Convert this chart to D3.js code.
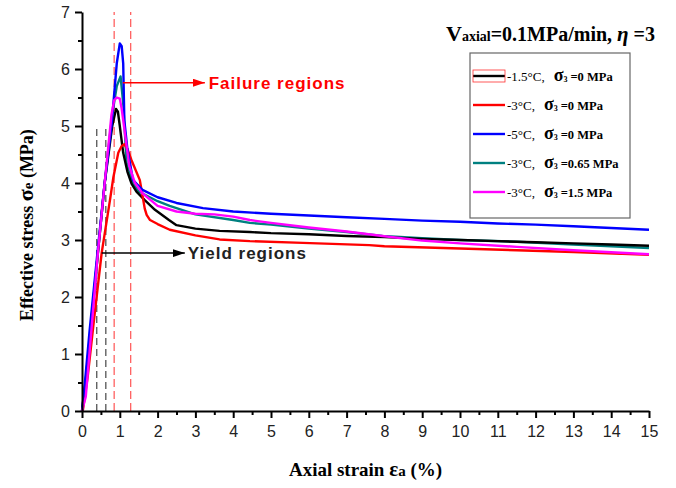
<!DOCTYPE html>
<html>
<head>
<meta charset="utf-8">
<script src="https://cdn.jsdelivr.net/npm/d3@7"></script>
<style>
  body { margin: 0; background: #fff; }
  svg { display: block; }
</style>
</head>
<body>
<div id="chart"></div>
<script>
// strain (%) / effective stress (MPa)
const blueX  = [0, 0.05, 0.2, 0.42, 0.6, 0.78, 0.92, 1.0, 1.05, 1.09, 1.12, 1.2, 1.35, 1.6, 2.0, 2.5, 3.2, 4.0, 5.0, 6.0, 7.0, 8.0, 9.0, 10, 11, 12, 13, 14, 15];
const blueY  = [0, 0.3, 1.4, 2.85, 4.0, 5.0, 6.1, 6.45, 6.4, 6.1, 5.1, 4.6, 4.05, 3.88, 3.75, 3.65, 3.56, 3.5, 3.46, 3.43, 3.4, 3.37, 3.34, 3.32, 3.29, 3.27, 3.24, 3.21, 3.18];

const blackX = [0, 0.1, 0.42, 0.6, 0.8, 0.9, 0.95, 1.0, 1.09, 1.2, 1.31, 1.44, 1.66, 1.93, 2.3, 2.5, 3.0, 3.64, 4.44, 5, 6, 7, 8, 9, 10, 11, 12, 13, 14, 15];
const blackY = [0, 0.55, 2.77, 4.0, 5.0, 5.3, 5.25, 5.0, 4.53, 4.2, 3.99, 3.85, 3.7, 3.53, 3.35, 3.26, 3.2, 3.16, 3.14, 3.12, 3.1, 3.07, 3.05, 3.02, 3.0, 2.98, 2.96, 2.94, 2.92, 2.9];

const redX   = [0.02, 0.15, 0.3, 0.52, 0.74, 0.83, 0.96, 1.05, 1.12, 1.2, 1.31, 1.53, 1.66, 1.71, 1.8, 2.0, 2.32, 3.0, 3.64, 4.44, 5.84, 7.6, 8.0, 10, 11.5, 13, 15];
const redY   = [0, 0.6, 1.5, 2.77, 3.7, 4.1, 4.53, 4.65, 4.68, 4.6, 4.4, 4.05, 3.55, 3.44, 3.35, 3.28, 3.18, 3.08, 3.01, 2.98, 2.95, 2.91, 2.89, 2.85, 2.82, 2.79, 2.74];

const tealX  = [0, 0.1, 0.42, 0.6, 0.8, 0.92, 1.02, 1.09, 1.18, 1.3, 1.5, 2.0, 2.32, 3.0, 4.0, 4.44, 5, 6, 7, 7.95, 9, 10, 11.5, 13, 15];
const tealY  = [0, 0.5, 2.77, 4.0, 5.2, 5.7, 5.87, 5.4, 4.35, 4.05, 3.85, 3.68, 3.6, 3.45, 3.35, 3.3, 3.27, 3.2, 3.14, 3.07, 3.03, 3.0, 2.97, 2.92, 2.86];

const pinkX  = [0, 0.1, 0.42, 0.6, 0.78, 0.85, 0.92, 1.0, 1.05, 1.15, 1.25, 1.4, 1.6, 2.0, 2.5, 3.0, 3.5, 4.0, 4.44, 5, 6, 7, 7.95, 9, 10, 11.5, 13, 15];
const pinkY  = [0, 0.25, 2.77, 4.0, 5.2, 5.45, 5.5, 5.48, 5.3, 4.8, 4.3, 4.0, 3.82, 3.6, 3.5, 3.46, 3.45, 3.41, 3.35, 3.3, 3.22, 3.15, 3.07, 2.99, 2.94, 2.88, 2.82, 2.75];

const seriesNames  = ['-1.5\u00b0C,', '-3\u00b0C,', '-5\u00b0C,', '-3\u00b0C,', '-3\u00b0C,'];
const seriesSigma3 = ['=0 MPa', '=0 MPa', '=0 MPa', '=0.65 MPa', '=1.5 MPa'];
const seriesColors = ['#000000', '#ff0000', '#0000ff', '#008080', '#ff00ff'];

const xTicks = d3.range(0, 16, 1);
const yTicks = d3.range(0, 8, 1);

// guide lines (strain %)
const yieldLines   = [0.39, 0.63];
const failureLines = [0.85, 1.29];

const W = 676, H = 488;
const margin = { top: 12, right: 27, bottom: 77, left: 82 };
const width = W - margin.left - margin.right;
const height = H - margin.top - margin.bottom;

const svg = d3.select('#chart').append('svg')
  .attr('width', W)
  .attr('height', H);

const g = svg.append('g')
  .attr('transform', `translate(${margin.left},${margin.top})`);

const x = d3.scaleLinear().domain([0, 15]).range([0, width]);
const y = d3.scaleLinear().domain([0, 7]).range([height, 0]);

// dashed guide lines
g.selectAll('.yield-line')
  .data(yieldLines)
  .enter().append('line')
  .attr('x1', d => x(d)).attr('x2', d => x(d))
  .attr('y1', y(0)).attr('y2', y(5))
  .attr('stroke', '#555')
  .attr('stroke-width', 1.3)
  .attr('stroke-dasharray', '7,4');

g.selectAll('.failure-line')
  .data(failureLines)
  .enter().append('line')
  .attr('x1', d => x(d)).attr('x2', d => x(d))
  .attr('y1', y(0)).attr('y2', y(7))
  .attr('stroke', '#ff3030')
  .attr('stroke-width', 1)
  .attr('stroke-dasharray', '8,4');

// curves
const curves = [
  { xs: blackX, ys: blackY },
  { xs: redX, ys: redY },
  { xs: blueX, ys: blueY },
  { xs: tealX, ys: tealY },
  { xs: pinkX, ys: pinkY },
];

const line = d3.line()
  .x(d => x(d[0]))
  .y(d => y(d[1]));

// draw order: teal, black, red under, blue & magenta on top
[3, 0, 1, 2, 4].forEach(i => {
  const c = curves[i];
  g.append('path')
    .datum(c.xs.map((v, k) => [v, c.ys[k]]))
    .attr('fill', 'none')
    .attr('stroke', seriesColors[i])
    .attr('stroke-width', 2.4)
    .attr('stroke-linejoin', 'round')
    .attr('d', line);
});

// axes
const xAxis = g.append('g')
  .attr('transform', `translate(0,${height})`)
  .call(d3.axisBottom(x).tickValues(xTicks).tickSize(7).tickSizeOuter(0).tickPadding(8).tickFormat(d3.format('d')));
g.append('g')
  .attr('transform', `translate(0,${height})`)
  .call(d3.axisBottom(x).tickValues(d3.range(0.5, 15, 1)).tickSize(4).tickSizeOuter(0).tickFormat(''))
  .select('.domain').remove();

const yAxis = g.append('g')
  .call(d3.axisLeft(y).tickValues(yTicks).tickSize(7).tickSizeOuter(0).tickPadding(5).tickFormat(d3.format('d')));
g.append('g')
  .call(d3.axisLeft(y).tickValues(d3.range(0.5, 7, 1)).tickSize(4).tickSizeOuter(0).tickFormat(''))
  .select('.domain').remove();

g.selectAll('.domain').attr('stroke-width', 2);
g.selectAll('.tick line').attr('stroke-width', 2);
[xAxis, yAxis].forEach(a => a.selectAll('text')
  .style('font-family', 'Liberation Sans, Arial, sans-serif')
  .style('font-size', '16px')
  .attr('fill', '#222'));

// annotations
const defs = svg.append('defs');
[['arrRed', '#ff0000'], ['arrBlack', '#000']].forEach(([id, col]) => {
  defs.append('marker')
    .attr('id', id)
    .attr('viewBox', '0 0 12 8')
    .attr('refX', 12).attr('refY', 4)
    .attr('markerWidth', 12).attr('markerHeight', 8)
    .attr('markerUnits', 'userSpaceOnUse')
    .attr('orient', 'auto')
    .append('path').attr('d', 'M0,0L12,4L0,8Z').attr('fill', col);
});

g.append('line')
  .attr('x1', x(1.08)).attr('x2', x(3.25))
  .attr('y1', y(5.76)).attr('y2', y(5.76))
  .attr('stroke', '#ff0000').attr('stroke-width', 1.5)
  .attr('marker-end', 'url(#arrRed)');
g.append('text')
  .attr('x', x(3.35)).attr('y', y(5.76) + 6)
  .style('font-family', 'Liberation Sans, Arial, sans-serif')
  .style('font-size', '17px').style('font-weight', 'bold')
  .style('letter-spacing', '1px')
  .attr('fill', '#ff0000')
  .text('Failure regions');

g.append('line')
  .attr('x1', x(0.52)).attr('x2', x(2.72))
  .attr('y1', y(2.77)).attr('y2', y(2.77))
  .attr('stroke', '#000').attr('stroke-width', 1.5)
  .attr('marker-end', 'url(#arrBlack)');
g.append('text')
  .attr('x', x(2.8)).attr('y', y(2.77) + 6)
  .style('font-family', 'Liberation Sans, Arial, sans-serif')
  .style('font-size', '17px').style('font-weight', 'bold')
  .style('letter-spacing', '1px')
  .attr('fill', '#222')
  .text('Yield regions');

// title
const serif = 'Liberation Serif, Times New Roman, serif';
const title = svg.append('text')
  .attr('x', 446).attr('y', 41)
  .style('font-family', serif).style('font-weight', 'bold')
  .attr('fill', '#000');
title.append('tspan').style('font-size', '22px').text('V');
title.append('tspan').style('font-size', '14px').text('axial');
title.append('tspan').style('font-size', '20px').text('=0.1MPa/min,  ');
title.append('tspan').style('font-size', '21px').style('font-style', 'italic').text('\u03b7');
title.append('tspan').style('font-size', '20px').text(' =3');

// legend
const legend = svg.append('g').attr('transform', 'translate(470,53)');
legend.append('rect')
  .attr('width', 160).attr('height', 165)
  .attr('fill', '#fff').attr('stroke', '#666').attr('stroke-width', 1.2);

const rows = legend.selectAll('.row')
  .data(seriesNames)
  .enter().append('g')
  .attr('transform', (d, i) => `translate(0,${23 + i * 29})`);

rows.append('line')
  .attr('x1', 3).attr('x2', 35)
  .attr('stroke', (d, i) => seriesColors[i])
  .attr('stroke-width', 2.4);

// selection box left around the first sample
legend.append('rect')
  .attr('x', 3).attr('y', 23 - 6)
  .attr('width', 32).attr('height', 12)
  .attr('fill', 'none').attr('stroke', '#ff3030').attr('stroke-width', 0.8);

const lt = rows.append('text')
  .attr('x', 37).attr('y', 5)
  .style('font-family', serif)
  .attr('fill', '#000');
lt.append('tspan').style('font-size', '13px').text(d => d);
lt.append('tspan').attr('dx', 9).style('font-size', '18px').style('font-weight', 'bold').text('\u03c3');
lt.append('tspan').attr('dy', 1).style('font-size', '8px').style('font-weight', 'bold').text('3');
lt.append('tspan').attr('dy', -1).attr('dx', 3).style('font-size', '12.5px').style('font-weight', 'bold')
  .text((d, i) => seriesSigma3[i]);

// axis titles
const xl = svg.append('text')
  .attr('x', margin.left + width / 2).attr('y', 476)
  .attr('text-anchor', 'middle')
  .style('font-family', serif).style('font-weight', 'bold')
  .attr('fill', '#000');
xl.append('tspan').style('font-size', '19px').text('Axial strain ');
xl.append('tspan').style('font-size', '21px').text('\u03b5');
xl.append('tspan').style('font-size', '15px').text('a');
xl.append('tspan').style('font-size', '19px').text(' (%)');

// y title: measured so its centre sits at y = 225
const yl = svg.append('text')
  .style('font-family', serif).style('font-weight', 'bold')
  .attr('fill', '#000');
yl.append('tspan').style('font-size', '18px').text('Effective stress ');
yl.append('tspan').style('font-size', '22px').text('\u03c3');
yl.append('tspan').style('font-size', '15px').text('e');
yl.append('tspan').style('font-size', '18px').text(' (MPa)');
const ylLen = yl.node().getComputedTextLength();
yl.attr('transform', `translate(33,${225 + ylLen / 2}) rotate(-90)`);
</script>
</body>
</html>
